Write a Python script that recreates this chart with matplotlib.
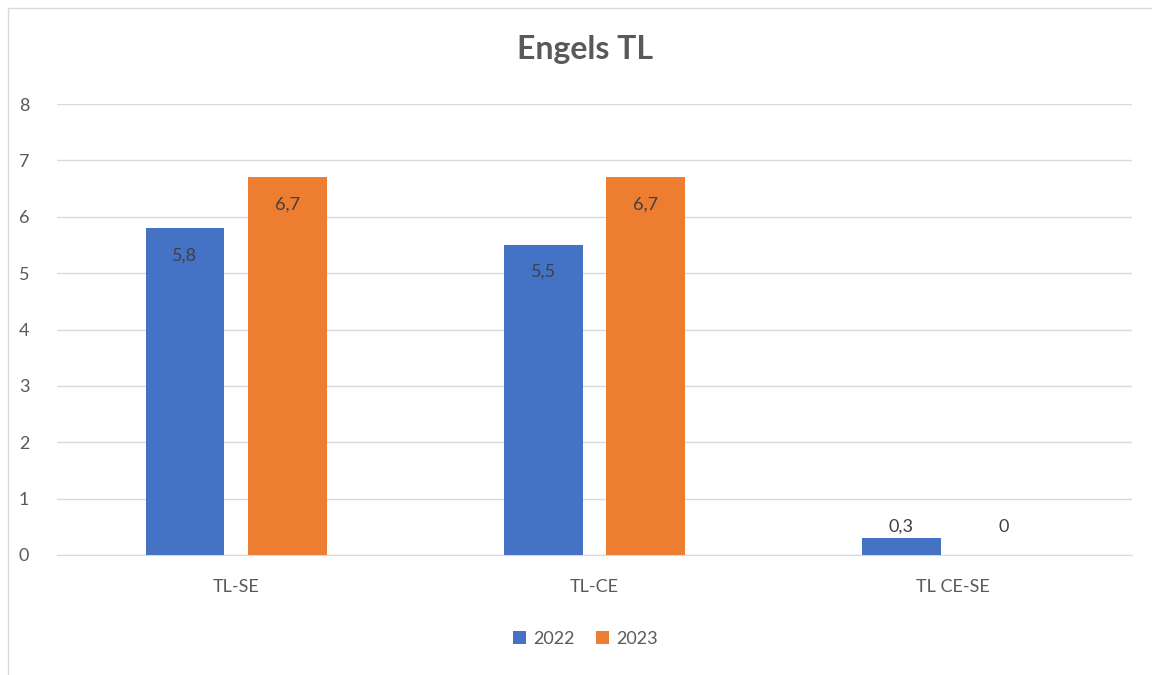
import matplotlib
matplotlib.use("Agg")
import matplotlib.pyplot as plt
import numpy as np
from matplotlib.patches import Rectangle

categories = ["TL-SE", "TL-CE", "TL CE-SE"]
series_names = ["2022", "2023"]
values_2022 = [5.8, 5.5, 0.3]
values_2023 = [6.7, 6.7, 0.0]
colors = ["#4472C4", "#ED7D31"]

plt.rcParams['font.family'] = ['Lato', 'DejaVu Sans']
fig = plt.figure(figsize=(11.52, 6.75), dpi=100)
ax = fig.add_axes([0.0495, 0.1778, 0.933, 0.668])

x = np.arange(len(categories))
w = 0.22
off = 0.143
text_col = "#595959"
for vals, col, name, sgn in [(values_2022, colors[0], series_names[0], -1),
                              (values_2023, colors[1], series_names[1], 1)]:
    ax.bar(x + sgn * off, vals, width=w, color=col, label=name, zorder=3)
    for xi, v in zip(x + sgn * off, vals):
        y = v - 0.48 if v > 1 else 0.5
        lbl = f"{v:.1f}".replace(".", ",") if v != 0 else "0"
        ax.text(xi, y, lbl, ha="center", va="center", fontsize=13, color="#404040", zorder=4)

ax.set_xlim(-0.5, 2.5)
ax.set_ylim(0, 8)
ax.set_yticks(range(0, 9))
ax.set_xticks(x)
ax.set_xticklabels(categories)
ax.grid(axis="y", color="#D9D9D9", linewidth=1, zorder=0)
for s in ["top", "right", "left"]:
    ax.spines[s].set_visible(False)
ax.spines["bottom"].set_color("#D9D9D9")
ax.tick_params(axis="both", length=0, labelsize=13, labelcolor=text_col)
ax.tick_params(axis="y", pad=20)
ax.tick_params(axis="x", pad=17)

fig.text(0.508, 0.926, "Engels TL", fontsize=23, fontweight="bold", color=text_col,
         ha="center", va="center")

leg = fig.legend(loc="center", bbox_to_anchor=(0.508, 0.054), ncol=2, frameon=False,
                 fontsize=13, handlelength=0.7, handleheight=0.7, columnspacing=1.2,
                 handletextpad=0.4)
for t in leg.get_texts():
    t.set_color(text_col)

fig.patches.append(Rectangle((0.007, -0.01), 1.2, 0.998, transform=fig.transFigure,
                             fill=False, edgecolor="#D9D9D9", linewidth=1))

fig.savefig("out.png", dpi=100)
